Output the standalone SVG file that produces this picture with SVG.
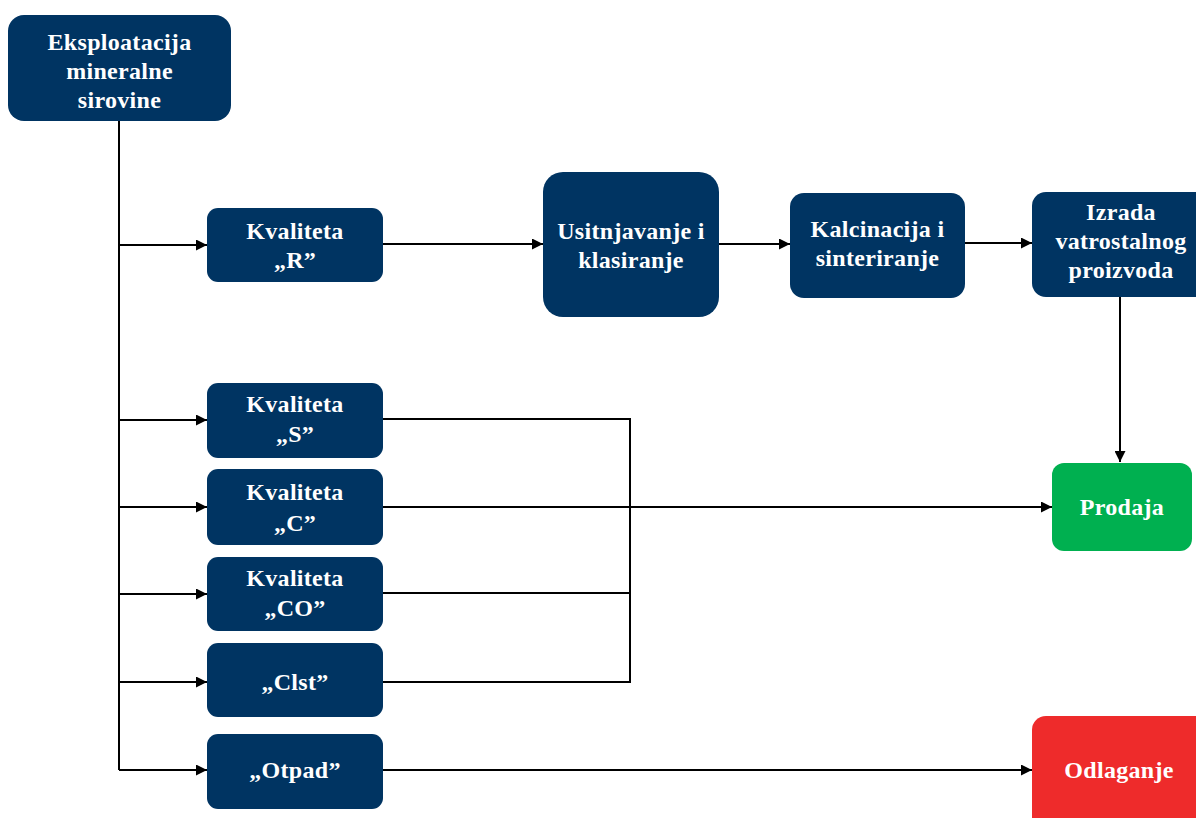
<svg xmlns="http://www.w3.org/2000/svg" width="1196" height="818" viewBox="0 0 1196 818">
<defs>
<style>
.n{fill:#003462}
.g{fill:#00B050}
.r{fill:#EE2B2B}
text{font-family:"Liberation Serif","Times New Roman",serif;font-weight:bold;font-size:24px;letter-spacing:0.3px;fill:#fff;text-anchor:middle}
.c{fill:none;stroke:#000;stroke-width:2}
</style>
<marker id="ah" viewBox="0 0 10 10" refX="10" refY="5" markerWidth="13" markerHeight="11" markerUnits="userSpaceOnUse" orient="auto">
<path d="M0,0 L10,5 L0,10 z" fill="#000"/>
</marker>
</defs>
<rect width="1196" height="818" fill="#fff"/>
<g id="connectors">
<path class="c" d="M119,121 V770"/>
<path class="c" d="M119,245 H207" marker-end="url(#ah)"/>
<path class="c" d="M119,420 H207" marker-end="url(#ah)"/>
<path class="c" d="M119,507 H207" marker-end="url(#ah)"/>
<path class="c" d="M119,594 H207" marker-end="url(#ah)"/>
<path class="c" d="M119,682 H207" marker-end="url(#ah)"/>
<path class="c" d="M119,770 H207" marker-end="url(#ah)"/>
<path class="c" d="M383,244 H543" marker-end="url(#ah)"/>
<path class="c" d="M719,244 H790" marker-end="url(#ah)"/>
<path class="c" d="M965,243 H1032" marker-end="url(#ah)"/>
<path class="c" d="M1120,297 V462" marker-end="url(#ah)"/>
<path class="c" d="M383,419 H630 V682 H383"/>
<path class="c" d="M383,593 H630"/>
<path class="c" d="M383,507 H1052" marker-end="url(#ah)"/>
<path class="c" d="M383,770 H1032" marker-end="url(#ah)"/>
</g>
<g id="n-eksploatacija">
<rect class="n" x="8" y="15" width="223" height="106" rx="16"/>
<text x="119.5" y="50">Eksploatacija</text>
<text x="119.5" y="79">mineralne</text>
<text x="119.5" y="108">sirovine</text>
</g>
<g id="n-r">
<rect class="n" x="207" y="208" width="176" height="74" rx="11"/>
<text x="295" y="239">Kvaliteta</text>
<text x="295" y="268">„R”</text>
</g>
<g id="n-usitnjavanje">
<rect class="n" x="543" y="172" width="176" height="145" rx="20"/>
<text x="631" y="239">Usitnjavanje i</text>
<text x="631" y="268">klasiranje</text>
</g>
<g id="n-kalcinacija">
<rect class="n" x="790" y="193" width="175" height="105" rx="14"/>
<text x="877.5" y="237">Kalcinacija i</text>
<text x="877.5" y="266">sinteriranje</text>
</g>
<g id="n-izrada">
<rect class="n" x="1032" y="192" width="180" height="105" rx="14"/>
<text x="1121" y="220">Izrada</text>
<text x="1121" y="249">vatrostalnog</text>
<text x="1121" y="278">proizvoda</text>
</g>
<g id="n-s">
<rect class="n" x="207" y="383" width="176" height="75" rx="11"/>
<text x="295" y="412">Kvaliteta</text>
<text x="295" y="442">„S”</text>
</g>
<g id="n-c">
<rect class="n" x="207" y="469" width="176" height="76" rx="11"/>
<text x="295" y="500">Kvaliteta</text>
<text x="295" y="531">„C”</text>
</g>
<g id="n-co">
<rect class="n" x="207" y="557" width="176" height="74" rx="11"/>
<text x="295" y="586">Kvaliteta</text>
<text x="295" y="616">„CO”</text>
</g>
<g id="n-clst">
<rect class="n" x="207" y="643" width="176" height="74" rx="11"/>
<text x="295" y="690">„Clst”</text>
</g>
<g id="n-otpad">
<rect class="n" x="207" y="734" width="176" height="75" rx="11"/>
<text x="295" y="778">„Otpad”</text>
</g>
<g id="n-prodaja">
<rect class="g" x="1052" y="463" width="140" height="88" rx="12"/>
<text x="1122" y="515">Prodaja</text>
</g>
<g id="n-odlaganje">
<rect class="r" x="1032" y="716" width="180" height="120" rx="14"/>
<text x="1119" y="778">Odlaganje</text>
</g>
</svg>
